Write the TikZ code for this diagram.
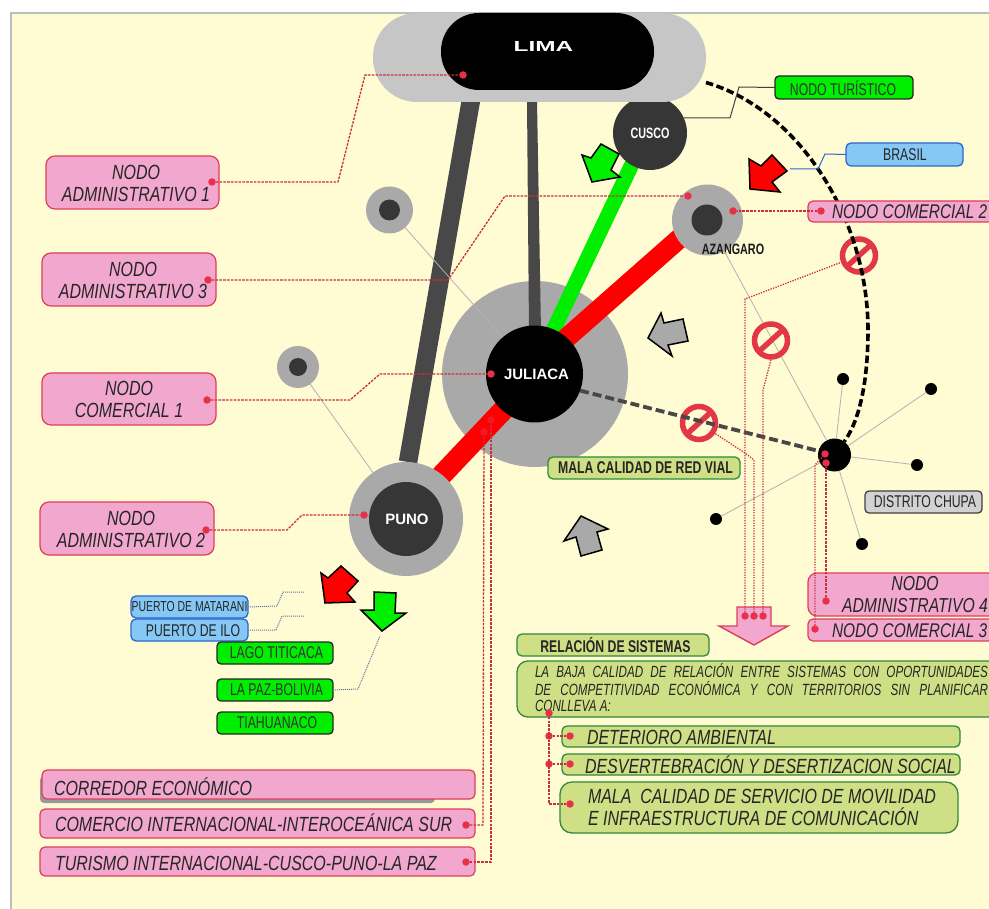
\documentclass[tikz,border=0pt]{standalone}
\usepackage{fontspec}
\usepackage{graphicx}
\setmainfont{Liberation Sans}
\newfontfamily\cn[FakeStretch=0.78]{Liberation Sans}
\newfontfamily\cnb[FakeStretch=0.72]{Liberation Sans}
\definecolor{paper}{HTML}{FFFBD3}
\definecolor{frame}{HTML}{BDBDBD}
\definecolor{gA}{HTML}{A9A9A9}
\definecolor{gL}{HTML}{C6C6C6}
\definecolor{dk}{HTML}{363636}
\definecolor{road}{HTML}{484848}
\definecolor{pinkf}{HTML}{F2A8CE}
\definecolor{pinkb}{HTML}{DE3F58}
\definecolor{olive}{HTML}{CFDF85}
\definecolor{oliveb}{HTML}{2F8A3A}
\definecolor{bluef}{HTML}{85C8F5}
\definecolor{blueb}{HTML}{2E66CC}
\definecolor{grn}{HTML}{00EE00}
\definecolor{rdot}{HTML}{E8304A}
\definecolor{rlin}{HTML}{C8303E}
\definecolor{sign}{HTML}{E23744}
\tikzset{
 base/.style={rectangle,inner sep=0pt,outer sep=0pt},
 pinkbox/.style={base,draw=pinkb,line width=1.2pt,fill=pinkf,rounded corners=9pt},
 pinkthin/.style={base,draw=pinkb,line width=1.2pt,fill=pinkf,rounded corners=5pt},
 olivebox/.style={base,draw=oliveb,line width=1.3pt,fill=olive,rounded corners=5pt},
 bluebox/.style={base,draw=blueb,line width=1.3pt,fill=bluef,rounded corners=5pt},
 grnbox/.style={base,draw=black!85,line width=1.3pt,fill=grn,rounded corners=4pt},
 graybox/.style={base,draw=black!75,line width=1.3pt,fill=gray!35,rounded corners=4pt},
 disc/.style={circle,inner sep=0pt,outer sep=0pt,fill=#1},
 reddot/.style={circle,inner sep=0pt,outer sep=0pt,minimum size=7.5pt,fill=rdot},
 lbl/.style={inner sep=0pt,outer sep=0pt,text=black!85},
 leader/.style={rlin,line width=1.3pt,dash pattern=on 2.6pt off 1.2pt},
 dotline/.style={rlin,line width=1.3pt,dash pattern=on 1.3pt off 1.3pt},
 hair/.style={black!30,line width=.8pt},
 roadline/.style={road,line width=#1},
 block/.style={line width=1.5pt,draw=black,line join=miter},
 signring/.style={circle,draw=sign,line width=5.5pt,inner sep=0pt,minimum size=33pt},
}
% style, name, x1,y1,x2,y2
\newcommand{\bx}[6]{\node[#1,minimum width={(#5-#3)*1pt},minimum height={(#6-#4)*1pt},anchor=north west] (#2) at (#3,#4) {};}
\newcommand{\sgn}[2]{\node[signring] (#1) at (#2) {};\draw[sign,line width=5.5pt] ($(#1)+(-11,10)$) -- ($(#1)+(11,-10)$);}
\usetikzlibrary{calc}
\begin{document}
\begin{tikzpicture}[x=1pt,y=-1pt]
\useasboundingbox (0,0) rectangle (989,909);
\clip (0,0) rectangle (989,909);
\fill[white] (0,0) rectangle (989,909);
\fill[frame] (9.5,12) rectangle (989,909);
\fill[paper] (11.5,14) rectangle (989,909);

% Juliaca halo
\node[disc=gA,minimum size=186pt] (julO) at (535,374) {};
% road anchors
\coordinate (limaA) at (471,100);
\coordinate (punoA) at (408,462);
\coordinate (cusA) at (634,160);
\coordinate (julB) at (551,335);
\coordinate (azaA) at (680,238);
\coordinate (julC) at (562,342);
\coordinate (punoB) at (440,477);
\coordinate (julD) at (508,405);
\coordinate (la) at (527,100);
\coordinate (lb) at (537,100);
\coordinate (jb) at (541,332);
\coordinate (ja) at (529,332);
\draw[roadline=18.5pt] (limaA) -- (punoA);
\fill[road] (la) -- (lb) -- (jb) -- (ja) -- cycle;
\draw[grn,line width=15pt] (cusA) -- (julB);
\draw[red,line width=20pt] (azaA) -- (julC);
\draw[red,line width=21pt] (punoB) -- (julD);

% satellites, hairlines
\node[disc=gA,minimum size=47pt] (s1O) at (389.5,210) {};
\node[disc=dk,minimum size=21pt] (s1I) at (389.5,210) {};
\node[disc=gA,minimum size=42pt] (s2O) at (298,367) {};
\node[disc=dk,minimum size=18pt] (s2I) at (298,367) {};
\node[disc=black,minimum size=33pt] (chu) at (834.5,455) {};
\node[disc=black,minimum size=12pt] (c1) at (843,379) {};
\node[disc=black,minimum size=12pt] (c2) at (931,389) {};
\node[disc=black,minimum size=12pt] (c3) at (917,465) {};
\node[disc=black,minimum size=12pt] (c4) at (862,544) {};
\node[disc=black,minimum size=12pt] (c5) at (716,519) {};
\foreach \k in {c1,c2,c3,c4,c5} \draw[hair] (chu) -- (\k);
\draw[hair] (s1O) -- (julO.center);
\coordinate (punoC) at (406,519);
\draw[hair] (s2O) -- (punoC);

% cusco below Lima halo
\node[disc=dk,minimum size=74pt,text=white,font=\cnb\bfseries\fontsize{15}{15}\selectfont] (cus) at (650,133) {CUSCO};
\node[base,fill=gL,rounded corners=44pt,minimum width=333pt,minimum height=89pt,anchor=north west] (limO) at (373,13) {};
\node[base,fill=black,rounded corners=38pt,minimum width=213pt,minimum height=77pt,anchor=north west] (lim) at (441,13) {};
\node[lbl,text=white,font=\bfseries\fontsize{14.5}{14.5}\selectfont] (limt) at (543.5,46.5) {\scalebox{1.68}[1]{LIMA}};

% nodes
\node[disc=gA,minimum size=71pt] (azaO) at (707.5,220) {};
\node[disc=dk,minimum size=31pt] (azaI) at (707,220) {};
\node[lbl,font=\cnb\bfseries\fontsize{15}{15}\selectfont,text=black!90] (azaT) at (733,249) {AZANGARO};
\draw[hair] (azaO) -- (chu);
\node[disc=gA,minimum size=114pt] (punO) at (406,519) {};
\node[disc=dk,minimum size=74pt,text=white,font=\bfseries\fontsize{15}{15}\selectfont] (pun) at (406,519) {\hspace*{2pt}PUNO};
\node[disc=black,minimum size=97pt,text=white,font=\bfseries\fontsize{15}{15}\selectfont] (jul) at (534.5,374) {\hspace*{4pt}JULIACA};

% no-entry signs
\sgn{n1}{859,255.5}
\sgn{n2}{771,340.5}
\sgn{n3}{699,423}

% dashed links
\draw[black,line width=3.6pt,dash pattern=on 7.5pt off 3.5pt] (limO.east) ++(0,25) .. controls (800,110) and (868,220) .. (868,330) .. controls (868,380) and (860,420) .. (chu);
\draw[road,line width=3.8pt,dash pattern=on 9pt off 4pt] (jul.-20) -- (chu);

% block arrows
\draw[block,fill=grn] (582,155)--(591,158)--(601,144)--(619,154)--(611,170)--(620,177)--(592,182)--cycle;
\draw[block,fill=red] (749,159)--(761,166)--(772,155)--(787,171)--(772,182)--(780,192)--(750,189)--cycle;
\draw[block,fill=gA] (648,338)--(661,313)--(664,323)--(683,319)--(688,341)--(668,345)--(672,356)--cycle;
\draw[block,fill=gA] (581,516)--(608,529)--(597,532)--(602,550)--(581,556)--(576,537)--(564,541)--cycle;
\draw[block,fill=red] (321,573)--(328,578)--(341,566)--(358,581)--(347,593)--(355,602)--(325,603)--cycle;
\draw[block,fill=grn] (374,592)--(396,593)--(395,613)--(406,613)--(382,631)--(361,610)--(374,610)--cycle;
\draw[pinkb,line width=1.4pt,fill=pinkf] (737,607)--(771,607)--(771,626)--(788,626)--(754,645)--(719,626)--(737,626)--cycle;

% pink label boxes
\bx{pinkbox}{na1}{46}{156}{219}{209}
\bx{pinkbox}{na3}{42}{253}{216}{306}
\bx{pinkbox}{nc1}{42}{373}{216}{425}
\bx{pinkbox}{na2}{40}{502}{214}{555}
\bx{pinkthin}{nc2}{808}{201}{1010}{222}
\bx{pinkbox}{na4}{808}{573}{1010}{616}
\bx{pinkthin}{nc3}{808}{619}{1010}{641}
\fill[black!40,rounded corners=4pt] (40,776) rectangle (435,803);
\bx{pinkthin}{cor}{42}{770}{475}{799}
\bx{pinkthin}{com}{40}{809}{475}{838}
\bx{pinkthin}{tur}{40}{847}{475}{876}
\tikzset{big/.style={lbl,font=\cn\itshape\fontsize{20.5}{22}\selectfont,align=center}}
\node[big] (na1t) at (136,183) {NODO\\ADMINISTRATIVO 1};
\node[big] (na3t) at (133,280) {NODO\\ADMINISTRATIVO 3};
\node[big] (nc1t) at (129,399) {NODO\\COMERCIAL 1};
\node[big] (na2t) at (131,529) {NODO\\ADMINISTRATIVO 2};
\node[big,anchor=west,font=\cn\itshape\fontsize{19.8}{22}\selectfont] (nc2t) at (832,211.5) {NODO COMERCIAL 2};
\node[big,anchor=east,font=\cn\itshape\fontsize{20.2}{22}\selectfont] (na4t) at (988,594.5) {NODO\\ADMINISTRATIVO 4};
\node[big,anchor=west,font=\cn\itshape\fontsize{19.8}{22}\selectfont] (nc3t) at (832,630.5) {NODO COMERCIAL 3};
\node[big,anchor=west] (cort) at (54,787) {CORREDOR ECONÓMICO};
\node[big,anchor=west] (comt) at (55,823) {COMERCIO INTERNACIONAL-INTEROCEÁNICA SUR};
\node[big,anchor=west] (turt) at (55,863) {TURISMO INTERNACIONAL-CUSCO-PUNO-LA PAZ};

% small boxes
\tikzset{sm/.style={lbl,font=\cnb\fontsize{17}{17}\selectfont}}
\bx{grnbox}{tur2}{775}{76}{913}{99}
\node[sm,text=black!80] (tur2t) at (843,88) {NODO TURÍSTICO};
\bx{bluebox}{bra}{846}{143}{963}{166}
\node[sm] (brat) at (905,155) {BRASIL};
\bx{bluebox}{mat}{131}{596}{248}{618}
\node[sm,font=\cnb\fontsize{14.5}{15}\selectfont] (matt) at (189.5,607) {PUERTO DE MATARANI};
\bx{bluebox}{ilo}{131}{619}{248}{641}
\node[sm] (ilot) at (193,630.5) {PUERTO DE ILO};
\bx{grnbox}{lag}{217}{642}{333}{664}
\node[sm,text=black!80] (lagt) at (276.5,653) {LAGO TITICACA};
\bx{grnbox}{paz}{217}{679}{333}{701}
\node[sm,text=black!80] (pazt) at (276.5,690) {LA PAZ-BOLIVIA};
\bx{grnbox}{tia}{217}{712}{333}{734}
\node[sm,text=black!80] (tiat) at (277,723) {TIAHUANACO};
\bx{graybox}{dis}{865}{491}{982}{513}
\node[sm] (dist) at (925,502) {DISTRITO CHUPA};
\bx{olivebox}{mal}{548}{457}{740}{479}
\node[lbl,font=\cnb\bfseries\fontsize{17}{17}\selectfont] (malt) at (645.5,468) {MALA CALIDAD DE RED VIAL};
\bx{olivebox}{rel}{517}{634}{709}{656}
\node[lbl,font=\cnb\bfseries\fontsize{17}{17}\selectfont] (relt) at (615.5,645) {RELACIÓN DE SISTEMAS};

% olive text boxes
\node[base,draw=oliveb,line width=1.3pt,fill=olive,rounded corners=11pt,minimum width=500pt,minimum height=56pt,anchor=north west] (big) at (517,661) {};
\tikzset{para/.style={lbl,anchor=west,font=\cnb\itshape\fontsize{16.2}{16.2}\selectfont}}
\node[para] (p1) at (535,671) {\makebox[453pt][s]{LA BAJA CALIDAD DE RELACIÓN ENTRE SISTEMAS CON OPORTUNIDADES}};
\node[para] (p2) at (535,689) {\makebox[453pt][s]{DE COMPETITIVIDAD ECONÓMICA Y CON TERRITORIOS SIN PLANIFICAR}};
\node[para] (p3) at (535,706) {CONLLEVA A:};
\bx{olivebox}{det}{562}{726}{960}{747}
\bx{olivebox}{des}{562}{754}{960}{775}
\node[base,draw=oliveb,line width=1.3pt,fill=olive,rounded corners=12pt,minimum width=398pt,minimum height=51pt,anchor=north west] (mov) at (560,782) {};
\node[big,anchor=west] (dett) at (587,737) {DETERIORO AMBIENTAL};
\node[big,anchor=west] (dest) at (585,765) {DESVERTEBRACIÓN Y DESERTIZACION SOCIAL};
\node[big,anchor=west,align=left] (movt) at (588,807.5) {MALA\ \ CALIDAD DE SERVICIO DE MOVILIDAD\\E INFRAESTRUCTURA DE COMUNICACIÓN};

% thin connectors
\draw[black!75,line width=1pt] (tur2.west) -- (739,87) -- (730,118) -- (684,118);
\draw[blueb,line width=1pt] (bra.west) -- (825,154) -- (818,169) -- (790,169);
\tikzset{bluedot/.style={blueb!60!black!70,line width=1pt,dash pattern=on 1pt off 1pt}}
\coordinate (matEnd) at (304,592);
\coordinate (iloEnd) at (304,616);
\coordinate (pazEnd) at (380,636);
\draw[bluedot] (mat.east) -- (277,606) -- (283,592) -- (matEnd);
\draw[bluedot] (ilo.east) -- (276,630) -- (282,616) -- (iloEnd);
\draw[bluedot] (paz.east) -- (358,689) -- (pazEnd);

% red dots
\foreach \n/\p in {d1/{212,182},e1/{463,75},d3/{208,280},e3/{688,196},d4/{207,400},e4/{491,374},d2/{206,530},e2/{364,515},d5/{821,211},e5/{733,211},
 a1/{745,616},a2/{754,616},a3/{763,616},h1/{825,454},h2/{826,463},h3/{826,601},h4/{815,629},
 k1/{466,825},k2/{466,862},q1/{549,713},q2/{549,736},q3/{549,764},r2/{570,736},r3/{570,764},r4/{570,804}}
 {\node[reddot] (\n) at (\p) {};}
\node[reddot,opacity=.5] (k3) at (484,432) {};
\node[reddot,opacity=.5] (k4) at (491,420) {};

% red leaders
\draw[leader] (d1) -- (338,182) -- (365,75) -- (e1);
\draw[leader] (d3) -- (448,280) -- (505,196) -- (e3);
\draw[leader] (d4) -- (350,400) -- (380,374) -- (e4);
\draw[leader] (d2) -- (287,530) -- (302,515) -- (e2);
\draw[leader] (d5) -- (e5);
\draw[dotline] (a1) -- (745,299) -- (n1);
\draw[dotline] (a2) -- (754,460) -- (745,453) -- (n3);
\draw[dotline] (a3) -- (763,390) -- (n2.south);
\draw[dotline] (h4) -- (815,465) -- (h1);
\draw[leader] (h3) -- (h2);
\draw[leader] (k1) -- (483,825) -- (k3);
\draw[leader] (k2) -- (491,862) -- (k4);
\draw[leader] (q1) -- (549,804) -- (r4);
\draw[leader] (q2) -- (r2);
\draw[leader] (q3) -- (r3);
\end{tikzpicture}
\end{document}
